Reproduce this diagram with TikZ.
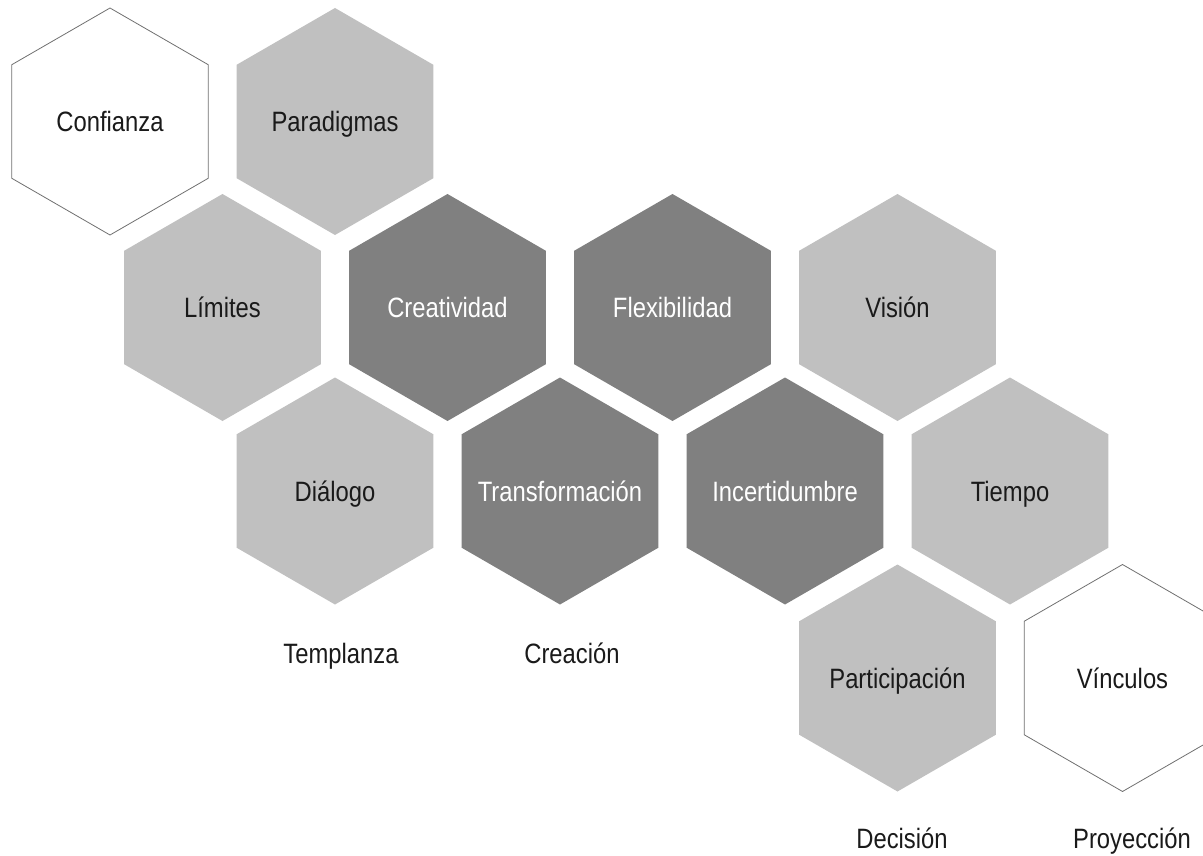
\documentclass[tikz,border=0pt]{standalone}
\usepackage{fontspec}
\setmainfont{Liberation Sans}[FakeStretch=0.85]
\usetikzlibrary{shapes.geometric}
\definecolor{lightg}{HTML}{C0C0C0}
\definecolor{darkg}{HTML}{808080}
\definecolor{edgeg}{HTML}{707070}
\definecolor{txt}{HTML}{1A1A1A}
\newcommand\hxtext[1]{\makebox[0pt]{#1}}
\begin{document}
\begin{tikzpicture}[x=1pt,y=-1pt,
  hexbase/.style={regular polygon, regular polygon sides=6, shape border rotate=30,
    minimum size=227pt, inner sep=0pt, text height=20pt, text depth=0pt,
    font=\fontsize{28}{32}\selectfont},
  hexlight/.style={hexbase, fill=lightg, text=txt},
  hexdark/.style={hexbase, fill=darkg, text=white},
  hexopen/.style={hexbase, fill=white, draw=edgeg, line width=0.8pt, text=txt},
  undertext/.style={anchor=base, text=txt, font=\fontsize{28}{32}\selectfont}]
\useasboundingbox (0,0) rectangle (1203,856);
\clip (0,0) rectangle (1203,856);
% row 1
\node[hexopen]  (confianza)  at (110,121.5) {\hxtext{Confianza}};
\node[hexlight] (paradigmas) at (335,121.5) {\hxtext{Paradigmas}};
% row 2
\node[hexlight] (limites)      at (222.5,307.5) {\hxtext{Límites}};
\node[hexdark]  (creatividad)  at (447.5,307.5) {\hxtext{Creatividad}};
\node[hexdark]  (flexibilidad) at (672.5,307.5) {\hxtext{Flexibilidad}};
\node[hexlight] (vision)       at (897.5,307.5) {\hxtext{Visión}};
% row 3
\node[hexlight] (dialogo)        at (335,491) {\hxtext{Diálogo}};
\node[hexdark]  (transformacion) at (560,491) {\hxtext{Transformación}};
\node[hexdark]  (incertidumbre)  at (785,491) {\hxtext{Incertidumbre}};
\node[hexlight] (tiempo)         at (1010,491) {\hxtext{Tiempo}};
% row 4
\node[hexlight] (participacion) at (897.5,678) {\hxtext{Participación}};
\node[hexopen]  (vinculos)      at (1122.5,678) {\hxtext{Vínculos}};
% labels below
\node[undertext] (templanza)  at (341,663) {Templanza};
\node[undertext] (creacion)   at (572,663) {Creación};
\node[undertext] (decision)   at (902,848) {Decisión};
\node[undertext] (proyeccion) at (1132,848) {Proyección};
\end{tikzpicture}
\end{document}
